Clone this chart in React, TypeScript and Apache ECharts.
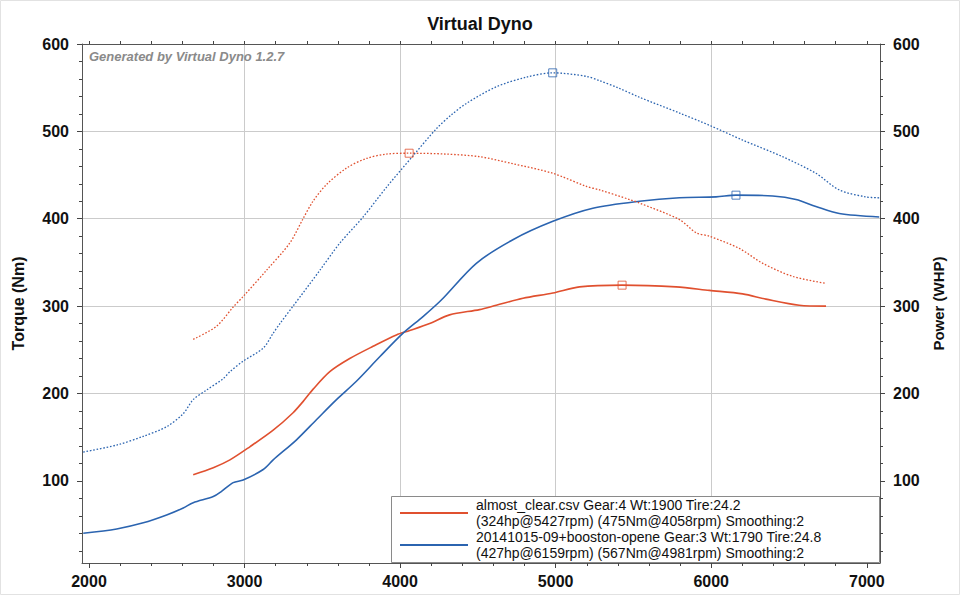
import React, { useEffect, useRef } from "react";
import * as echarts from "echarts";

// ---- Data ----
const xMin = 1955;
const xMax = 7085;
const yMin = 6;
const yMax = 600;

const xLabelValues = [2000, 3000, 4000, 5000, 6000, 7000];
const xMinorValues = [2200, 2400, 2600, 2800, 3200, 3400, 3600, 3800, 4200, 4400, 4600, 4800, 5200, 5400, 5600, 5800, 6200, 6400, 6600, 6800];
const xTopTickValues = [2000, 2200, 2400, 2600, 2800, 3000, 3200, 3400, 3600, 3800, 4000, 4200, 4400, 4600, 4800, 5000, 5200, 5400, 5600, 5800, 6000, 6200, 6400, 6600, 6800, 7000];
const yLabelValues = [100, 200, 300, 400, 500, 600];
const yMinorValues = [20, 40, 60, 80, 120, 140, 160, 180, 220, 240, 260, 280, 320, 340, 360, 380, 420, 440, 460, 480, 520, 540, 560, 580];

const LEGEND_RED = "almost_clear.csv Gear:4 Wt:1900 Tire:24.2\n(324hp@5427rpm) (475Nm@4058rpm) Smoothing:2";
const LEGEND_BLUE = "20141015-09+booston-opene Gear:3 Wt:1790 Tire:24.8\n(427hp@6159rpm) (567Nm@4981rpm) Smoothing:2";

// Red run: torque (dotted, Nm)
const redTorqueRpm = [2670, 2820, 2927, 2991, 3141, 3290, 3376, 3440, 3526, 3655, 3783, 3912, 4058, 4297, 4511, 4725, 4982, 5198, 5282, 5475, 5539, 5796, 5903, 5988, 6181, 6331, 6524, 6738];
const redTorque = [262, 277, 299, 311, 341, 372, 400, 420, 439, 458, 469, 474, 475, 474, 471, 463, 452, 437, 433, 422, 418, 399, 384, 380, 366, 349, 334, 326];

// Red run: power (solid, WHP)
const redPowerRpm = [2670, 2799, 2906, 3034, 3184, 3312, 3377, 3441, 3548, 3676, 3826, 3976, 4062, 4190, 4318, 4511, 4618, 4790, 4982, 5153, 5427, 5774, 5988, 6202, 6352, 6566, 6738];
const redPower = [107, 115, 124, 139, 158, 178, 191, 205, 225, 240, 254, 267, 272, 280, 290, 296, 301, 309, 315, 322, 324, 322, 318, 314, 308, 301, 300];

// Blue run: torque (dotted, Nm)
const blueTorqueRpm = [1963, 2178, 2349, 2499, 2606, 2670, 2756, 2863, 2906, 2991, 3120, 3184, 3227, 3312, 3484, 3612, 3762, 3912, 4083, 4233, 4330, 4426, 4618, 4811, 4981, 5196, 5282, 5400, 5539, 5796, 5988, 6202, 6459, 6673, 6823, 6994, 7080];
const blueTorque = [133, 141, 151, 162, 177, 193, 204, 217, 225, 237, 252, 269, 280, 300, 341, 372, 402, 436, 472, 503, 519, 532, 551, 562, 567, 563, 558, 550, 539, 521, 507, 490, 471, 452, 433, 425, 424];

// Blue run: power (solid, WHP)
const bluePowerRpm = [1963, 2178, 2349, 2499, 2606, 2670, 2799, 2852, 2927, 2991, 3120, 3184, 3334, 3462, 3591, 3719, 3869, 4019, 4147, 4265, 4490, 4725, 4982, 5239, 5539, 5796, 6031, 6159, 6395, 6545, 6673, 6823, 7080];
const bluePower = [40, 45, 52, 61, 69, 75, 82, 88, 98, 101, 113, 124, 147, 170, 193, 214, 242, 269, 288, 307, 349, 376, 397, 412, 420, 424, 425, 427, 426, 422, 414, 406, 402];

// Peak markers [rpm, value]
const redTorquePeak = [4058, 475];
const redPowerPeak = [5427, 324];
const blueTorquePeak = [4981, 567];
const bluePowerPeak = [6159, 427];

const RED = "#e0502f";
const BLUE = "#2b64b0";
const FONT = "'Liberation Sans', Arial, sans-serif";

const zip = (xs: number[], ys: number[]) => xs.map((x, i) => [x, ys[i]]);

export default function App() {
  const ref = useRef<HTMLDivElement>(null);

  useEffect(() => {
    if (!ref.current) return;
    const chart = echarts.init(ref.current, null, { renderer: "svg" });

    const axisLineDark = { show: true, lineStyle: { color: "#555", width: 1 } };
    const labelStyle = {
      color: "#111",
      fontSize: 16,
      fontWeight: "bold" as const,
      fontFamily: FONT,
      formatter: (v: number) => String(v),
    };

    const minorX = (position: "top" | "bottom", values: number[]) => ({
      type: "value",
      gridIndex: 0,
      position,
      min: xMin,
      max: xMax,
      axisLine: position === "top" ? axisLineDark : { show: false },
      axisLabel: { show: false },
      splitLine: { show: false },
      axisTick: { show: true, customValues: values, length: 3, lineStyle: { color: "#444" } },
    });
    const minorY = (position: "left" | "right") => ({
      type: "value",
      gridIndex: 0,
      position,
      min: yMin,
      max: yMax,
      axisLine: { show: false },
      axisLabel: { show: false },
      splitLine: { show: false },
      axisTick: { show: true, customValues: yMinorValues, length: 3, lineStyle: { color: "#444" } },
    });

    const lineSeries = (name: string, data: number[][], color: string, dotted: boolean, yAxisIndex: number) => ({
      type: "line",
      name,
      data,
      xAxisIndex: 0,
      yAxisIndex,
      symbol: "none",
      smooth: 0.3,
      z: 2,
      lineStyle: dotted
        ? { color, width: 1.3, type: [1.6, 1.8] }
        : { color, width: 1.6, type: "solid" },
      itemStyle: { color },
    });

    const peakSeries = (name: string, point: number[], color: string, yAxisIndex: number) => ({
      type: "scatter",
      name,
      data: [point],
      xAxisIndex: 0,
      yAxisIndex,
      symbol: "rect",
      symbolSize: 8,
      z: 3,
      itemStyle: { color: "rgba(255,255,255,0)", borderColor: color, borderWidth: 1 },
    });

    chart.setOption({
      animation: false,
      backgroundColor: "#fff",
      textStyle: { fontFamily: FONT },
      title: {
        text: "Virtual Dyno",
        left: "center",
        top: 10,
        textStyle: { fontSize: 18, fontWeight: "bold", color: "#111", fontFamily: FONT },
      },
      grid: { left: 82, right: 80, top: 44, bottom: 32, containLabel: false },
      xAxis: [
        {
          type: "value",
          gridIndex: 0,
          position: "bottom",
          min: xMin,
          max: xMax,
          axisLine: axisLineDark,
          axisTick: { show: true, customValues: xLabelValues, length: 5, lineStyle: { color: "#444" } },
          axisLabel: { ...labelStyle, customValues: xLabelValues, margin: 10 },
          splitLine: { show: true, showMinLine: false, showMaxLine: false, lineStyle: { color: "#cbcbcb", width: 1 } },
        },
        minorX("bottom", xMinorValues),
        minorX("top", xTopTickValues),
      ],
      yAxis: [
        {
          type: "value",
          gridIndex: 0,
          position: "left",
          min: yMin,
          max: yMax,
          name: "Torque (Nm)",
          nameLocation: "middle",
          nameRotate: 90,
          nameGap: 56,
          nameTextStyle: { color: "#111", fontSize: 16, fontWeight: "bold", fontFamily: FONT },
          axisLine: axisLineDark,
          axisTick: { show: true, customValues: yLabelValues, length: 5, lineStyle: { color: "#444" } },
          axisLabel: { ...labelStyle, customValues: yLabelValues, margin: 13 },
          splitLine: { show: true, showMinLine: false, showMaxLine: false, lineStyle: { color: "#cbcbcb", width: 1 } },
        },
        {
          type: "value",
          gridIndex: 0,
          position: "right",
          min: yMin,
          max: yMax,
          name: "Power (WHP)",
          nameLocation: "middle",
          nameRotate: 90,
          nameGap: 50,
          nameTextStyle: { color: "#111", fontSize: 15, fontWeight: "bold", fontFamily: FONT },
          axisLine: axisLineDark,
          axisTick: { show: true, customValues: yLabelValues, length: 5, lineStyle: { color: "#444" } },
          axisLabel: { ...labelStyle, customValues: yLabelValues, margin: 13 },
          splitLine: { show: false },
        },
        minorY("left"),
        minorY("right"),
      ],
      legend: {
        show: true,
        data: [LEGEND_RED, LEGEND_BLUE],
        orient: "vertical",
        left: 400,
        top: 497,
        padding: 0,
        itemGap: 0,
        icon: "rect",
        itemWidth: 68,
        itemHeight: 2,
        z: 6,
        selectedMode: false,
        textStyle: { fontSize: 14, lineHeight: 16, color: "#111", fontFamily: FONT, padding: [0, 0, 0, 3] },
      },
      graphic: [
        {
          type: "rect",
          z: 5,
          shape: { x: 391.5, y: 496.5, width: 488, height: 66 },
          style: { fill: "#fff", stroke: "#8a8a8a", lineWidth: 1 },
        },
        {
          type: "text",
          z: 5,
          x: 89,
          y: 50,
          style: {
            text: "Generated by Virtual Dyno 1.2.7",
            font: "italic bold 13px 'Liberation Sans', Arial, sans-serif",
            fill: "#8a8a8a",
          },
        },
        {
          type: "rect",
          z: 0,
          silent: true,
          shape: { x: 0.5, y: 0.5, width: 959, height: 594 },
          style: { fill: "none", stroke: "#e2e2e2", lineWidth: 1 },
        },
      ],
      series: [
        lineSeries(LEGEND_RED, zip(redPowerRpm, redPower), RED, false, 1),
        lineSeries(LEGEND_BLUE, zip(bluePowerRpm, bluePower), BLUE, false, 1),
        lineSeries(LEGEND_RED, zip(redTorqueRpm, redTorque), RED, true, 0),
        lineSeries(LEGEND_BLUE, zip(blueTorqueRpm, blueTorque), BLUE, true, 0),
        peakSeries("redTorquePeak", redTorquePeak, RED, 0),
        peakSeries("redPowerPeak", redPowerPeak, RED, 1),
        peakSeries("blueTorquePeak", blueTorquePeak, BLUE, 0),
        peakSeries("bluePowerPeak", bluePowerPeak, BLUE, 1),
      ],
    });

    return () => chart.dispose();
  }, []);

  return (
    <div
      ref={ref}
      style={{ position: "absolute", left: 0, top: 0, width: 960, height: 595 }}
    />
  );
}
